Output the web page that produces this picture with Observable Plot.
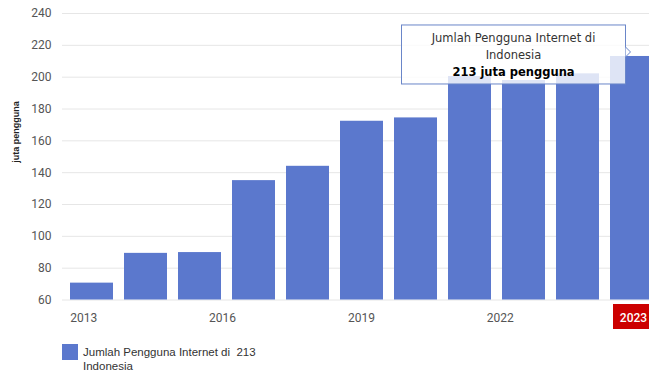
<!DOCTYPE html>
<html><head><meta charset="utf-8">
<script src="https://cdn.jsdelivr.net/npm/d3@7"></script>
<script src="https://cdn.jsdelivr.net/npm/@observablehq/plot@0.6"></script>
<style>
html,body{margin:0;padding:0;background:#fff;overflow:hidden;width:649px;height:373px}
#chart svg{display:block}
#legend{position:relative;height:37px;font-family:"Liberation Sans",Arial,sans-serif;font-size:11.5px;color:#333}
#legend .sw{position:absolute;left:62px;top:8px;width:16px;height:16px}
#legend .lt{position:absolute;left:83px;top:10px;line-height:13.7px;white-space:nowrap}
</style></head><body>
<div id="chart"></div>
<div id="legend"><div class="sw"></div><div class="lt"></div></div>
<script>
const years = [2013, 2014, 2015, 2016, 2017, 2018, 2019, 2020, 2021, 2022, 2023];
const users = [70.6, 89.3, 89.8, 135, 144, 172.3, 174.4, 200.4, 197.9, 202.1, 213];
const yTicks = [60, 80, 100, 120, 140, 160, 180, 200, 220, 240];
const xTickYears = [2013, 2016, 2019, 2022];
const highlightYear = 2023;
const seriesName = "Jumlah Pengguna Internet di Indonesia";
const legendLines = ["Jumlah Pengguna Internet di\u00a0 213", "Indonesia"];
const tipLines = ["Jumlah Pengguna Internet di", "Indonesia", "213 juta pengguna"];
const yLabel = "juta pengguna";

const barColor = "#5b78cd";
const data = years.map((year, i) => ({year, value: users[i]}));

function overlay(index, scales) {
  const x = scales.x, y = scales.y;
  const bw = typeof x.bandwidth === "function" ? x.bandwidth() : x.bandwidth;
  const step = typeof x.step === "function" ? x.step() : bw / 0.8;
  const g = d3.create("svg:g");
  const base = y(yTicks[0]);
  // x tick labels (spaced as in the source chart)
  const lx = yr => x(years[0]) + bw / 2 - 7.8 + (yr - years[0]) * step * 6 / 7;
  for (const yr of xTickYears) {
    g.append("text").attr("x", lx(yr)).attr("y", base + 22.7)
      .attr("text-anchor", "middle").attr("fill", "#555")
      .attr("font-family", "Roboto, sans-serif").attr("font-size", 12).text(yr);
  }
  // highlighted year
  const hx = x(highlightYear);
  g.append("rect").attr("x", hx + 3).attr("y", base + 4.5)
    .attr("width", bw).attr("height", 25).attr("fill", "#cc0000");
  g.append("text").attr("x", hx + 3 + bw / 2 - 1).attr("y", base + 22.2)
    .attr("text-anchor", "middle").attr("fill", "#fff")
    .attr("font-family", "Roboto, sans-serif").attr("font-size", 12).attr("font-weight", 500)
    .text(highlightYear);
  // tooltip
  const hv = users[years.indexOf(highlightYear)];
  const px = hx + bw / 2, py = y(hv);
  const right = px - 6, w = 224, h = 59, top = py - 31, left = right - w;
  g.append("rect").attr("x", left).attr("y", top).attr("width", w).attr("height", h)
    .attr("fill", "#fff").attr("fill-opacity", 0.8)
    .attr("stroke", "#6a86c9").attr("stroke-width", 1);
  g.append("path").attr("d", `M${right},${py - 9}L${right + 5},${py - 4}L${right},${py + 1}Z`)
    .attr("fill", "#fff").attr("fill-opacity", 0.8);
  g.append("path").attr("d", `M${right},${py - 9}L${right + 5},${py - 4}L${right},${py + 1}`)
    .attr("fill", "none").attr("stroke", "#6a86c9");
  tipLines.forEach((t, i) => {
    g.append("text").attr("x", left + w / 2).attr("y", top + 13 + i * 17)
      .attr("dy", "0.36em").attr("text-anchor", "middle")
      .attr("font-family", "'DejaVu Sans', Verdana, sans-serif").attr("font-size", 11.5)
      .attr("font-weight", i === 2 ? "bold" : "normal")
      .attr("fill", i === 2 ? "#000" : "#333").text(t);
  });
  return g.node();
}

const chart = Plot.plot({
  width: 662,
  height: 336,
  marginLeft: 62,
  marginRight: 0.5,
  marginTop: 13,
  marginBottom: 36.5,
  style: {maxWidth: "none", background: "#fff", overflow: "hidden"},
  x: {type: "band", domain: years, paddingInner: 0.2, paddingOuter: 0.13, axis: null},
  y: {domain: [60, 240], ticks: yTicks},
  marks: [
    Plot.gridY(yTicks, {stroke: "#e6e6e6", strokeOpacity: 1}),
    Plot.axisY(yTicks, {tickSize: 0, tickPadding: 11, fontSize: 12, fontFamily: "Roboto, sans-serif", color: "#555", label: null}),
    Plot.barY(data, {x: "year", y: "value", fill: barColor, clip: "frame", title: d => seriesName}),
    Plot.text([yLabel], {frameAnchor: "left", rotate: -90, dx: -46, dy: 6, fontSize: 9, fontWeight: "bold", fontFamily: "Liberation Sans, Arial, sans-serif", fill: "#222"}),
    overlay
  ]
});
document.getElementById("chart").appendChild(chart);
document.querySelector("#legend .sw").style.background = barColor;
document.querySelector("#legend .lt").innerHTML = legendLines.join("<br>");
</script>
</body></html>
